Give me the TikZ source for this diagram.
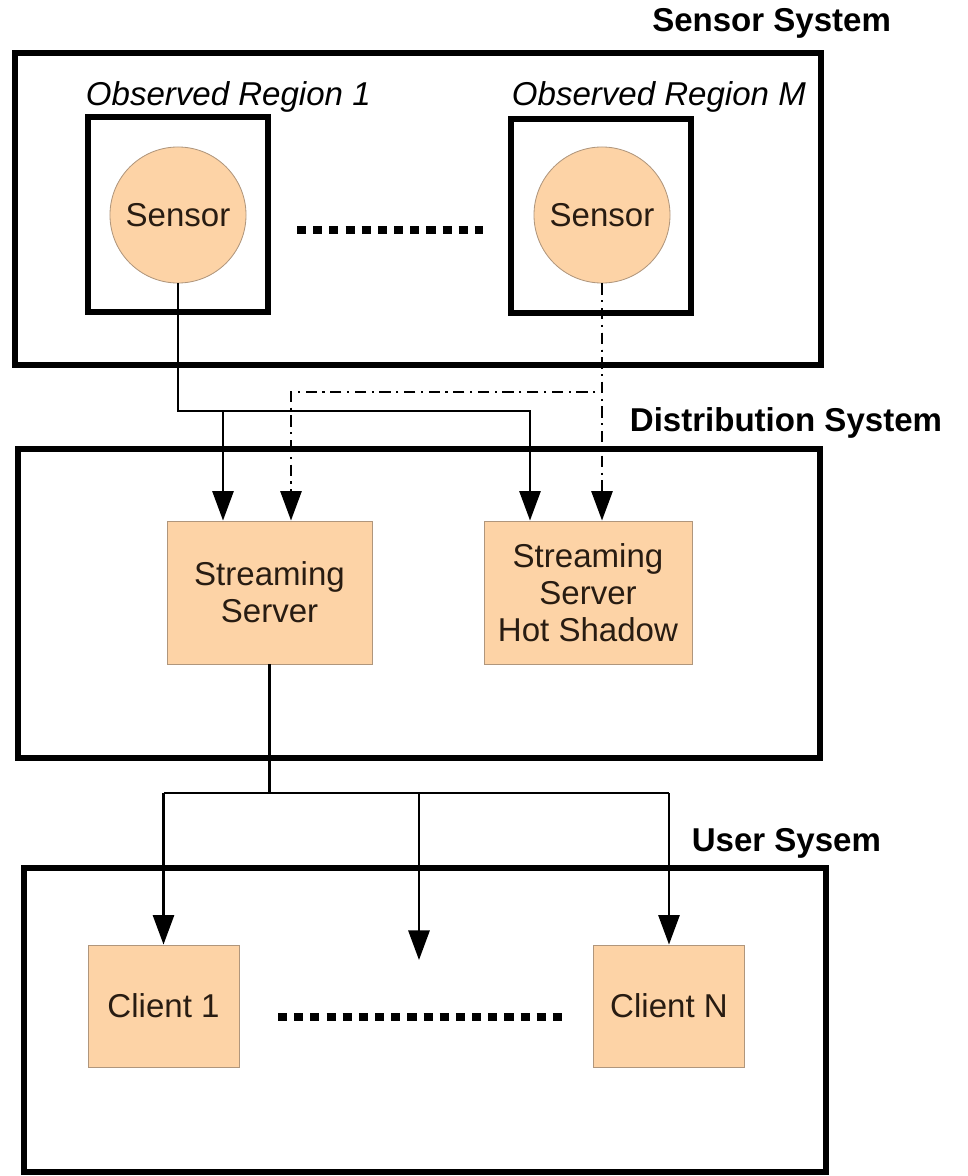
\documentclass[tikz,border=0pt]{standalone}
\usepackage{fontspec}
\setmainfont{Liberation Sans}
\usetikzlibrary{arrows.meta}
\definecolor{peach}{RGB}{253,211,166}
\definecolor{peachedge}{RGB}{176,150,124}
\definecolor{inktext}{RGB}{40,28,18}
\newcommand\diagfont{\fontsize{23.5}{26.3}\selectfont}

\begin{document}
\begin{tikzpicture}
        [x=0.025cm,y=-0.025cm,
        sysbox/.style={draw,line width=3.6pt},
        syslabel/.style={font=\diagfont\bfseries,anchor=east},
        regionlabel/.style={font=\diagfont\itshape,anchor=west},
        sensordecorate/.style={shape=circle,minimum size=3.4cm,inner sep=0pt,fill=peach,draw=peachedge,line width=0.6pt,text=inktext,font=\diagfont},
        boxdecorate/.style={shape=rectangle,inner sep=0pt,fill=peach,draw=peachedge,line width=0.6pt,text=inktext,align=center,font=\diagfont},
        link/.style={line width=1.8pt},
        backup/.style={line width=1.8pt,dash pattern=on 8pt off 4pt on 1.5pt off 4pt},
        arrowdecorate/.style={-{Triangle[width=15pt,length=21pt]}},
        gapdots/.style={line width=5.5pt,dash pattern=on 6.5pt off 5pt}]
        \useasboundingbox (0,0) rectangle (967,1176);

        %% system frames and their titles
        \draw[sysbox] (15,53) rectangle (821,365);
        \draw[sysbox] (18,449) rectangle (820,758);
        \draw[sysbox] (24,868) rectangle (826,1172);
        \foreach \labelname/\x/\y/\labeltext in {sensorsys/896/23/Sensor System,
          distsys/947/423/Distribution System, usersys/886/843/User Sysem}
        {
          \node[syslabel] (\labelname) at (\x,\y) {\labeltext};
        }

        %% observed regions with one sensor each
        \draw[sysbox] (88,117) rectangle (268,312);
        \draw[sysbox] (511,119) rectangle (691,313);
        \node[regionlabel] (regA) at (81,97) {Observed Region 1};
        \node[regionlabel] (regB) at (507,97) {Observed Region M};
        \node[sensordecorate] (sensA) at (178,215) {Sensor};
        \node[sensordecorate] (sensB) at (602,215) {Sensor};
        \draw[gapdots] (297,230) -- (483,230);

        %% servers
        \node[boxdecorate,minimum width=5.125cm,minimum height=3.575cm] (srv) at (269.5,592.5) {Streaming\\Server};
        \node[boxdecorate,minimum width=5.2cm,minimum height=3.575cm] (shadow) at (588,592.5) {Streaming\\Server\\Hot Shadow};

        %% clients
        \foreach \nodename/\x/\clienttext in {cliA/163.5/Client 1, cliB/669/Client N}
        {
          \node[boxdecorate,minimum width=3.775cm,minimum height=3.05cm] (\nodename) at (\x,1006) {\clienttext};
        }
        \draw[gapdots] (278,1017) -- (563,1017);

        %% edges: sensors to servers
        \coordinate (dropA) at (223,411);
        \coordinate (dropB) at (530,411);
        \coordinate (dropC) at (291,392);
        \draw[link,arrowdecorate] (sensA.south) |- (dropB) -- (dropB |- shadow.north);
        \draw[link,arrowdecorate] (dropA) -- (dropA |- srv.north);
        \draw[backup,arrowdecorate] (sensB.south) |- (dropC) -- (dropC |- srv.north);
        \draw[backup,arrowdecorate] (sensB.south) -- (sensB.south |- shadow.north);

        %% edges: server to clients
        \coordinate (fan) at (269.5,793);
        \coordinate (gapTip) at (419,960);
        \draw[link] (srv.south) -- (fan);
        \draw[link] (fan -| cliA) -- (fan -| cliB);
        \foreach \endnode in {cliA, gapTip, cliB}
        {
          \draw[link,arrowdecorate] (fan -| \endnode) -- (\endnode);
        }
\end{tikzpicture}
\end{document}
